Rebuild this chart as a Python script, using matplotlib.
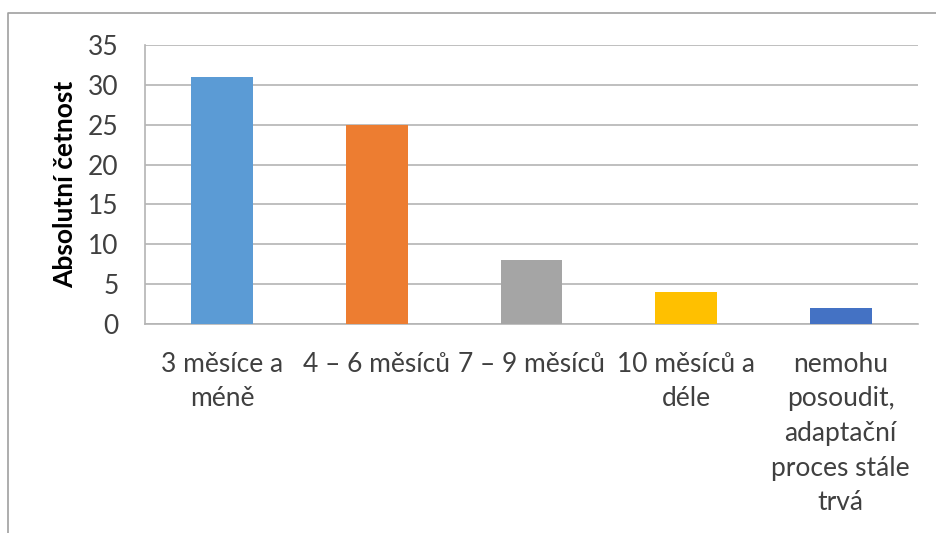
import matplotlib
matplotlib.use('Agg')
from matplotlib import pyplot as plt
from matplotlib.lines import Line2D

categories = [
    '3 měsíce a\nméně',
    '4 – 6 měsíců',
    '7 – 9 měsíců',
    '10 měsíců a\ndéle',
    'nemohu\nposoudit,\nadaptační\nproces stále\ntrvá',
]
counts = [31, 25, 8, 4, 2]
colors = ['#5B9BD5', '#ED7D31', '#A5A5A5', '#FFC000', '#4472C4']
yticks = [0, 5, 10, 15, 20, 25, 30, 35]

plt.rcParams['font.family'] = ['Lato', 'DejaVu Sans']

W, H = 936, 533
fig = plt.figure(figsize=(W / 100, H / 100), dpi=100)
ax = fig.add_axes([145 / W, 1 - 324 / H, (918 - 145) / W, (324 - 45) / H])

x = list(range(len(categories)))
ax.bar(x, counts, width=0.4, color=colors, zorder=3)

ax.set_xlim(-0.5, len(categories) - 0.5)
ax.set_ylim(0, 35)
ax.set_yticks(yticks)
ax.set_xticks(x)
ax.set_xticklabels(categories, fontsize=19, color='#404040', linespacing=1.48,
                   va='top', ha='center')
ax.tick_params(axis='y', labelsize=19, labelcolor='#404040', length=0, pad=19)
ax.tick_params(axis='x', length=0, pad=20)

ax.grid(axis='y', color='#B4B4B4', linewidth=1.2, zorder=0)
for side in ['top', 'right']:
    ax.spines[side].set_visible(False)
for side in ['left', 'bottom']:
    ax.spines[side].set_color('#B4B4B4')
    ax.spines[side].set_linewidth(1.2)

ax.set_ylabel('Absolutní četnost', fontsize=19, fontweight='bold',
              color='black', labelpad=8)

# chart frame
x0 = 8 / W
y0 = 1 - 13 / H
fig.add_artist(Line2D([x0, x0, 1], [0, y0, y0], transform=fig.transFigure,
                      color='#A0A0A0', linewidth=1.2))

fig.savefig('out.png', dpi=100, facecolor='white')
